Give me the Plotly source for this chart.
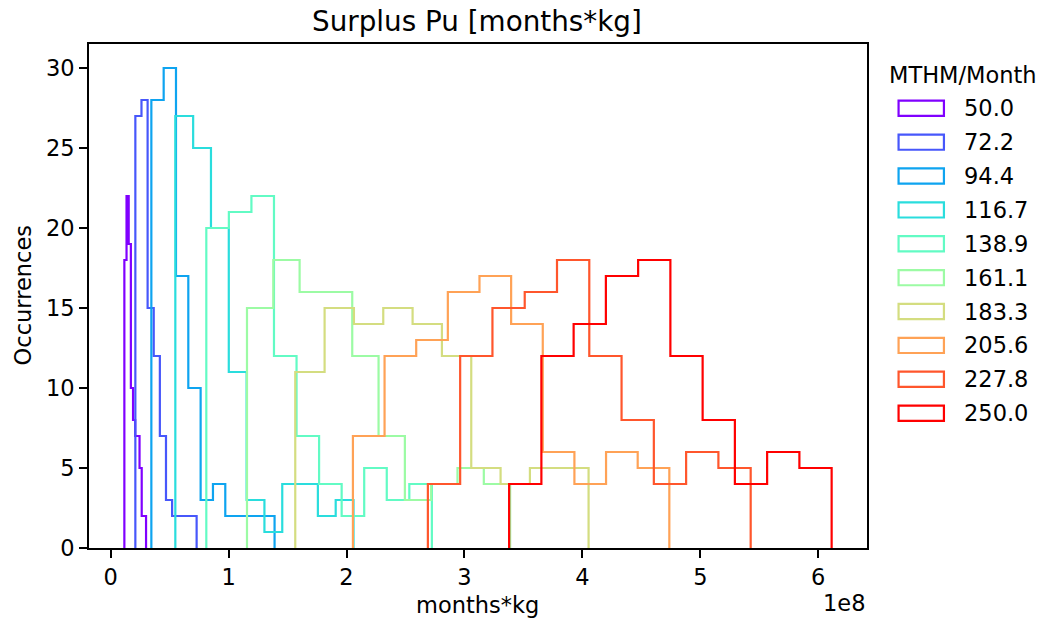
import numpy as np
import plotly.graph_objects as go

# ---- data ----
labels = ["50.0", "72.2", "94.4", "116.7", "138.9", "161.1", "183.3", "205.6", "227.8", "250.0"]
bin_lo = [0.1161e8, 0.2093e8, 0.3449e8, 0.5483e8, 0.8110e8, 1.1559e8, 1.5653e8, 2.0542e8, 2.6898e8, 3.3788e8]
bin_hi = [0.3000e8, 0.7288e8, 1.3898e8, 2.0593e8, 2.7237e8, 3.3873e8, 4.0525e8, 4.7373e8, 5.4271e8, 6.1136e8]
counts_50_0 = [18, 22, 19, 10, 8, 7, 7, 5, 2, 2]
counts_72_2 = [27, 28, 15, 12, 7, 3, 2, 2, 2, 2]
counts_94_4 = [28, 30, 17, 10, 3, 4, 2, 2, 2, 2]
counts_116_7 = [27, 25, 20, 11, 3, 1, 4, 4, 2, 3]
counts_138_9 = [20, 21, 22, 12, 7, 4, 2, 5, 3, 4]
counts_161_1 = [15, 18, 16, 16, 12, 7, 3, 4, 5, 4]
counts_183_3 = [11, 15, 14, 15, 14, 12, 5, 4, 5, 5]
counts_205_6 = [7, 12, 13, 16, 17, 14, 6, 4, 6, 5]
counts_227_8 = [4, 12, 15, 16, 18, 12, 8, 4, 6, 5]
counts_250_0 = [4, 12, 14, 17, 18, 12, 8, 4, 6, 5]
all_counts = [counts_50_0, counts_72_2, counts_94_4, counts_116_7, counts_138_9,
              counts_161_1, counts_183_3, counts_205_6, counts_227_8, counts_250_0]
x_tick_vals = [0, 1e8, 2e8, 3e8, 4e8, 5e8, 6e8]
x_tick_text = ["0", "1", "2", "3", "4", "5", "6"]
y_tick_vals = [0, 5, 10, 15, 20, 25, 30]

colors = ["#8000ff", "#4757fb", "#0ea4f0", "#2adddd", "#62fbc4",
          "#9cfba4", "#d4dd80", "#ffa256", "#ff562c", "#ff0000"]

FONT = "DejaVu Sans"
W, H = 1046, 622
L, R, T, B = 88.5, 867.2, 44.0, 548.3

fig = go.Figure()
for lab, lo, hi, cnt, col in zip(labels, bin_lo, bin_hi, all_counts, colors):
    edges = np.linspace(lo, hi, len(cnt) + 1)
    xs, ys = [edges[0]], [0]
    for i, c in enumerate(cnt):
        xs += [edges[i], edges[i + 1]]
        ys += [c, c]
    xs.append(edges[-1]); ys.append(0)
    fig.add_trace(go.Scatter(x=xs, y=ys, mode="lines", name=lab,
                             line=dict(color=col, width=2.2), showlegend=False,
                             hoverinfo="skip"))

xmin, xmax = min(bin_lo), max(bin_hi)
pad = 0.05 * (xmax - xmin)
ymax = max(max(c) for c in all_counts) * 1.05

axis_common = dict(showline=True, linewidth=1.8, linecolor="black", mirror=True,
                   ticks="outside", ticklen=8, tickwidth=1.8, tickcolor="black",
                   showgrid=False, zeroline=False,
                   tickfont=dict(family=FONT, size=22.5, color="black"))
fig.update_xaxes(range=[xmin - pad, xmax + pad], tickvals=x_tick_vals, ticktext=x_tick_text,
                 **axis_common)
fig.update_yaxes(range=[0, ymax], tickvals=y_tick_vals, **axis_common)

def px(x):
    return (x - L) / (R - L)

def py(y):
    return (B - y) / (B - T)

ann = []
shapes = []
ann.append(dict(text="Surplus Pu [months*kg]", x=px(477), y=py(21), xref="paper", yref="paper",
                showarrow=False, xanchor="center", yanchor="middle",
                font=dict(family=FONT, size=27.8, color="black")))
ann.append(dict(text="months*kg", x=px(477), y=py(605), xref="paper", yref="paper",
                showarrow=False, xanchor="center", yanchor="middle",
                font=dict(family=FONT, size=22.5, color="black")))
ann.append(dict(text="Occurrences", x=px(22), y=py(296), xref="paper", yref="paper",
                showarrow=False, xanchor="center", yanchor="middle", textangle=-90,
                font=dict(family=FONT, size=22.5, color="black")))
ann.append(dict(text="1e8", x=px(867), y=py(603), xref="paper", yref="paper",
                showarrow=False, xanchor="right", yanchor="middle",
                font=dict(family=FONT, size=22.5, color="black")))
ann.append(dict(text="MTHM/Month", x=px(963.5), y=py(75), xref="paper", yref="paper",
                showarrow=False, xanchor="center", yanchor="middle",
                font=dict(family=FONT, size=22.5, color="black")))
for i, (lab, col) in enumerate(zip(labels, colors)):
    yc = 108.3 + 33.9 * i
    shapes.append(dict(type="rect", xref="paper", yref="paper",
                       x0=px(898.8), x1=px(944.2), y0=py(yc - 7.6), y1=py(yc + 7.6),
                       line=dict(color=col, width=2.2), fillcolor="rgba(0,0,0,0)"))
    ann.append(dict(text=lab, x=px(962), y=py(yc), xref="paper", yref="paper",
                    showarrow=False, xanchor="left", yanchor="middle",
                    font=dict(family=FONT, size=22.5, color="black")))

fig.update_layout(width=W, height=H, margin=dict(l=L, r=W - R, t=T, b=H - B, pad=0),
                  paper_bgcolor="white", plot_bgcolor="white",
                  annotations=ann, shapes=shapes, showlegend=False,
                  font=dict(family=FONT, size=22.5, color="black"))
fig.write_html("out.html")
